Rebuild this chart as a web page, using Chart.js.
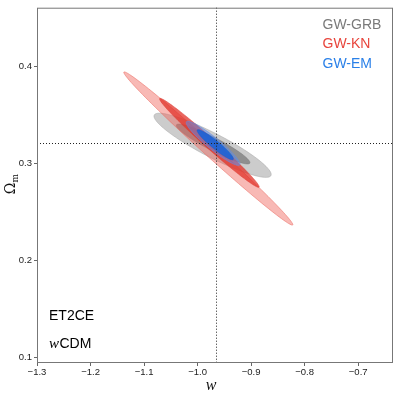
<!DOCTYPE html>
<html>
<head>
<meta charset="utf-8">
<script src="https://cdn.jsdelivr.net/npm/chart.js@4"></script>
<style>
  body { margin: 0; background: #fff; }
  #wrap { width: 399px; height: 398px; }
</style>
</head>
<body>
<div id="wrap"><canvas id="chart" width="399" height="398"></canvas></div>
<script>
// Axis ticks
const wTicks = [-1.3, -1.2, -1.1, -1.0, -0.9, -0.8, -0.7];
const omTicks = [0.1, 0.2, 0.3, 0.4];

// Fiducial values (dotted lines)
const fiducialW = -0.966;
const fiducialOm = 0.321;

// Probes, contours per probe: [1 sigma, 2 sigma]
const probes = ["GW-GRB", "GW-KN", "GW-EM"];
const centerW = [[-0.971, -0.972], [-0.978, -0.980], [-0.967, -0.971]];
const centerOm = [[0.3198, 0.3185], [0.3210, 0.3152], [0.3191, 0.3205]];
const sigmaW = [[0.0688, 0.1095], [0.0931, 0.1579], [0.0339, 0.0503]];
const sigmaOm = [[0.0205, 0.0330], [0.0458, 0.0788], [0.0155, 0.0227]];
const rho = [[-0.931, -0.909], [-0.988, -0.994], [-0.941, -0.939]];

const fills = [
  ["rgba(110,110,110,0.65)", "rgba(170,170,170,0.6)"],
  ["rgba(225,50,40,0.75)", "rgba(240,100,90,0.45)"],
  ["rgba(20,100,220,0.85)", "rgba(90,140,235,0.5)"]
];
const edges = [
  ["rgba(110,110,110,0.5)", "rgba(160,160,160,0.6)"],
  ["rgba(220,60,50,0.6)", "rgba(235,110,100,0.7)"],
  ["rgba(20,90,210,0.6)", "rgba(100,140,230,0.7)"]
];
const labelColors = ["#7a7a7a", "#e8453c", "#2a80e8"];

// Filled confidence ellipses, drawn through the chart scales
const contours = {
  id: "contours",
  beforeDatasetsDraw(chart) {
    const { ctx, chartArea, scales: { x, y } } = chart;
    ctx.save();
    ctx.beginPath();
    ctx.rect(chartArea.left, chartArea.top, chartArea.width, chartArea.height);
    ctx.clip();
    probes.forEach((p, i) => {
      [1, 0].forEach(l => {
        const sw = sigmaW[i][l], so = sigmaOm[i][l], r = rho[i][l];
        ctx.beginPath();
        for (let k = 0; k <= 120; k++) {
          const t = k / 120 * Math.PI * 2;
          const wv = centerW[i][l] + sw * Math.cos(t);
          const ov = centerOm[i][l] + so * (r * Math.cos(t) + Math.sqrt(1 - r * r) * Math.sin(t));
          const px = x.getPixelForValue(wv), py = y.getPixelForValue(ov);
          if (k === 0) ctx.moveTo(px, py); else ctx.lineTo(px, py);
        }
        ctx.closePath();
        ctx.fillStyle = fills[i][l];
        ctx.fill();
        ctx.lineWidth = 0.8;
        ctx.strokeStyle = edges[i][l];
        ctx.stroke();
      });
    });
    ctx.restore();
  },
  afterDatasetsDraw(chart) {
    const { ctx, chartArea, scales: { x, y } } = chart;
    ctx.save();
    // fiducial lines
    ctx.setLineDash([1, 2]);
    ctx.strokeStyle = "#222";
    ctx.lineWidth = 1;
    const fx = Math.round(x.getPixelForValue(fiducialW)) + 0.5;
    const fy = Math.round(y.getPixelForValue(fiducialOm)) + 0.5;
    ctx.beginPath();
    ctx.moveTo(fx, chartArea.top); ctx.lineTo(fx, chartArea.bottom);
    ctx.moveTo(chartArea.left, fy); ctx.lineTo(chartArea.right, fy);
    ctx.stroke();
    ctx.setLineDash([]);
    // frame
    ctx.strokeStyle = "#777";
    ctx.strokeRect(chartArea.left + 0.5, chartArea.top + 0.5, chartArea.width - 1, chartArea.height - 1);
    // legend text
    ctx.font = "14px 'Liberation Sans', Arial, sans-serif";
    ctx.textBaseline = "alphabetic";
    ctx.textAlign = "left";
    probes.forEach((p, i) => {
      ctx.fillStyle = labelColors[i];
      ctx.fillText(p, 322.5, 28.5 + i * 19.7);
    });
    // annotations
    ctx.fillStyle = "#000";
    ctx.fillText("ET2CE", 49, 319.5);
    ctx.font = "italic 15px 'Liberation Serif', serif";
    ctx.fillText("w", 49, 348);
    const ww = ctx.measureText("w").width;
    ctx.font = "14px 'Liberation Sans', Arial, sans-serif";
    ctx.fillText("CDM", 49 + ww + 0.5, 348);
    // axis titles
    ctx.font = "italic 16px 'Liberation Serif', serif";
    ctx.textAlign = "center";
    ctx.fillStyle = "#111";
    ctx.fillText("w", (chartArea.left + chartArea.right) / 2 - 4, 390);
    ctx.save();
    ctx.translate(15, (chartArea.top + chartArea.bottom) / 2);
    ctx.rotate(-Math.PI / 2);
    ctx.font = "14px 'DejaVu Serif', serif";
    ctx.textAlign = "left";
    const ow = ctx.measureText("\u03A9").width;
    ctx.fillText("\u03A9", -(ow + 6) / 2, 0);
    ctx.font = "9px 'DejaVu Serif', serif";
    ctx.fillText("m", -(ow + 6) / 2 + ow, 3);
    ctx.restore();
    ctx.restore();
  }
};

const minusFmt = v => (v < 0 ? "\u2212" + Math.abs(v).toFixed(1) : v.toFixed(1));

new Chart(document.getElementById("chart"), {
  type: "scatter",
  data: {
    datasets: probes.map((p, i) => ({
      label: p,
      data: [{ x: centerW[i][0], y: centerOm[i][0] }],
      pointRadius: 0,
      showLine: false
    }))
  },
  options: {
    responsive: false,
    animation: false,
    layout: { padding: { top: 5, right: 6, left: 0, bottom: 0 } },
    plugins: { legend: { display: false }, tooltip: { enabled: false } },
    scales: {
      x: {
        type: "linear",
        min: -1.3,
        max: -0.635,
        afterBuildTicks: s => { s.ticks = wTicks.map(v => ({ value: v })); },
        afterFit: s => { s.height = 35; },
        ticks: {
          callback: v => minusFmt(v),
          font: { family: "'Liberation Sans', Arial, sans-serif", size: 9.5 },
          color: "#222",
          padding: 1,
          maxRotation: 0
        },
        grid: { drawOnChartArea: false, drawTicks: true, tickLength: 3, color: "#666" },
        border: { display: false }
      },
      y: {
        type: "linear",
        min: 0.0946,
        max: 0.460,
        afterBuildTicks: s => { s.ticks = omTicks.map(v => ({ value: v })); },
        afterFit: s => { s.width = 37; },
        ticks: {
          callback: v => v.toFixed(1),
          font: { family: "'Liberation Sans', Arial, sans-serif", size: 9.5 },
          color: "#222",
          padding: 2
        },
        grid: { drawOnChartArea: false, drawTicks: true, tickLength: 3, color: "#666" },
        border: { display: false }
      }
    }
  },
  plugins: [contours]
});
</script>
</body>
</html>
